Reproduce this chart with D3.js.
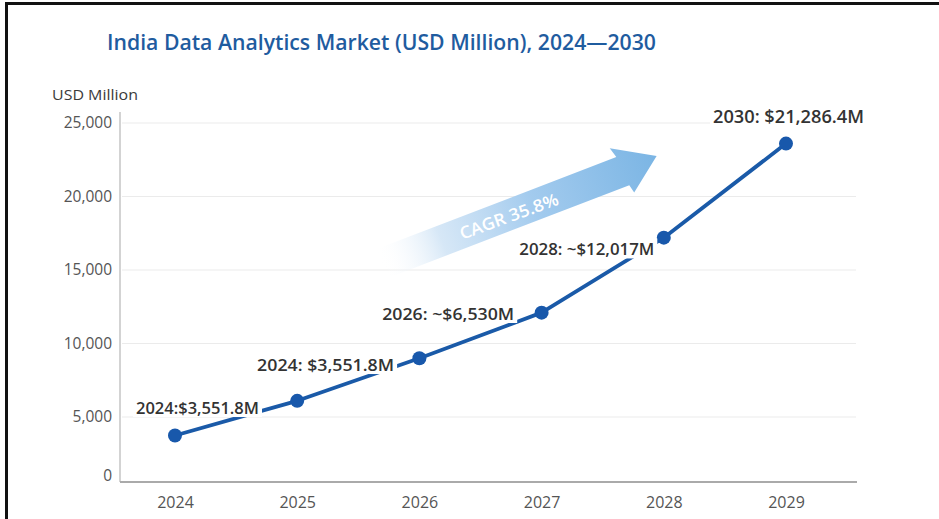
<!DOCTYPE html>
<html><head><meta charset="utf-8">
<script src="https://cdn.jsdelivr.net/npm/d3@7"></script>
<style>body{margin:0;background:#fff}svg{display:block}</style>
</head><body>
<svg id="chart" width="939" height="519"></svg>
<script>
// Market size series (USD million)
const years = ["2024", "2025", "2026", "2027", "2028", "2029"];
const marketValues = [3551.8, 6100, 9000, 12100, 17200, 23600];
const yTicks = [0, 5000, 10000, 15000, 20000, 25000];

// Callouts placed along the line
const calloutTexts = ["2024:$3,551.8M", "2024: $3,551.8M", "2026: ~$6,530M", "2028: ~$12,017M", "2030: $21,286.4M"];
const calloutPoint = [0, 1, 2, 4, 5];
const calloutOffsets = [[22.5, -28.5], [28.4, -36.8], [28.8, -45.2], [-77, 10.8], [2.5, -26.6]];
const calloutWidths = [123, 137, 132, 135, 151];

const titleText = "India Data Analytics Market (USD Million), 2024\u20142030";
const yAxisTitle = "USD Million";
const cagrText = "CAGR 35.8%";

const svg = d3.select("#chart");
const font = "'Open Sans', 'Noto Sans', sans-serif";

// frame
svg.append("line").attr("x1", 5).attr("x2", 939).attr("y1", 3.5).attr("y2", 3.5)
  .attr("stroke", "#111").attr("stroke-width", 3);
svg.append("line").attr("x1", 6.5).attr("x2", 6.5).attr("y1", 2).attr("y2", 519)
  .attr("stroke", "#111").attr("stroke-width", 3);

// title
svg.append("text").attr("x", 107).attr("y", 50)
  .attr("font-family", font).attr("font-size", 22).attr("font-weight", 600)
  .attr("fill", "#1f5c9f").attr("textLength", 549).attr("lengthAdjust", "spacingAndGlyphs")
  .text(titleText);

svg.append("text").attr("x", 52).attr("y", 100)
  .attr("font-family", font).attr("font-size", 14.5).attr("fill", "#3a3a3a")
  .attr("textLength", 86).attr("lengthAdjust", "spacingAndGlyphs")
  .text(yAxisTitle);

// scales
const x = d3.scalePoint().domain(years).range([175, 786]);
const y = d3.scaleLinear().domain([0, 5000, 25000]).range([481, 417, 123]);

// gridlines
svg.append("g").selectAll("line").data(yTicks.filter(d => d > 0)).join("line")
  .attr("x1", 122).attr("x2", 856)
  .attr("y1", d => y(d)).attr("y2", d => y(d))
  .attr("stroke", "#ebebeb").attr("stroke-width", 1.2);

// y axis
const yAxis = svg.append("g").attr("transform", "translate(120,0)")
  .call(d3.axisLeft(y).tickValues(yTicks).tickSize(0).tickPadding(8).tickFormat(d3.format(",")));
yAxis.select(".domain").remove();
yAxis.selectAll("text").attr("font-family", font).attr("font-size", 15.5).attr("fill", "#555")
  .attr("dy", (d) => d === 0 ? "-0.05em" : "0.32em");
svg.append("line").attr("x1", 120).attr("x2", 120).attr("y1", 112).attr("y2", 482)
  .attr("stroke", "#c4c4c4").attr("stroke-width", 1.5);

// x axis
const xAxis = svg.append("g").attr("transform", "translate(0,482)")
  .call(d3.axisBottom(x).tickSize(0).tickPadding(15));
xAxis.select(".domain").remove();
xAxis.selectAll("text").attr("font-family", font).attr("font-size", 16).attr("fill", "#555");
svg.append("line").attr("x1", 120).attr("x2", 857).attr("y1", 482).attr("y2", 482)
  .attr("stroke", "#aaaaaa").attr("stroke-width", 2);

// CAGR arrow
const defs = svg.append("defs");
const grad = defs.append("linearGradient").attr("id", "cagrGrad")
  .attr("gradientUnits", "userSpaceOnUse").attr("x1", 0).attr("x2", 296).attr("y1", 0).attr("y2", 0);
grad.append("stop").attr("offset", 0).attr("stop-color", "#ffffff").attr("stop-opacity", 0);
grad.append("stop").attr("offset", 0.22).attr("stop-color", "#cfe3f5").attr("stop-opacity", 0.85);
grad.append("stop").attr("offset", 0.55).attr("stop-color", "#a3cbee");
grad.append("stop").attr("offset", 1).attr("stop-color", "#7bb5e4");
const arrow = svg.append("g").attr("transform", "translate(381,264) rotate(-21)");
arrow.append("path")
  .attr("d", "M0,-15.5 L258,-15.5 L255,-26 L296,-2 L262,24 L260,15.5 L0,15.5 Z")
  .attr("fill", "url(#cagrGrad)");
svg.append("text").attr("transform", "translate(511,222) rotate(-20)")
  .attr("text-anchor", "middle").attr("font-family", font).attr("font-size", 17)
  .attr("font-weight", 600).attr("fill", "#ffffff")
  .attr("textLength", 104).attr("lengthAdjust", "spacingAndGlyphs")
  .text(cagrText);

// line + markers
const pts = years.map((yr, i) => ({ year: yr, value: marketValues[i] }));
svg.append("path").datum(pts)
  .attr("d", d3.line().x(d => x(d.year)).y(d => y(d.value)))
  .attr("fill", "none").attr("stroke", "#1a5aa8").attr("stroke-width", 3.8)
  .attr("stroke-linejoin", "round").attr("stroke-linecap", "round");
svg.append("g").selectAll("circle").data(pts).join("circle")
  .attr("cx", d => x(d.year)).attr("cy", d => y(d.value)).attr("r", 7)
  .attr("fill", "#1858ab");

// callouts with white backing boxes
const callouts = svg.append("g");
calloutTexts.forEach((t, i) => {
  const p = pts[calloutPoint[i]];
  const cx = x(p.year) + calloutOffsets[i][0];
  const cy = y(p.value) + calloutOffsets[i][1];
  const w = calloutWidths[i];
  const fs = i === 4 ? 17.5 : 17;
  callouts.append("rect").attr("x", cx - w / 2 - 3).attr("y", cy - 10).attr("width", w + 6).attr("height", 20)
    .attr("fill", "#ffffff");
  callouts.append("text").attr("x", cx - w / 2).attr("y", cy + 6.5)
    .attr("font-family", font).attr("font-size", fs).attr("font-weight", 600).attr("fill", "#333")
    .attr("textLength", w).attr("lengthAdjust", "spacingAndGlyphs")
    .text(t);
});
</script>
</body></html>
